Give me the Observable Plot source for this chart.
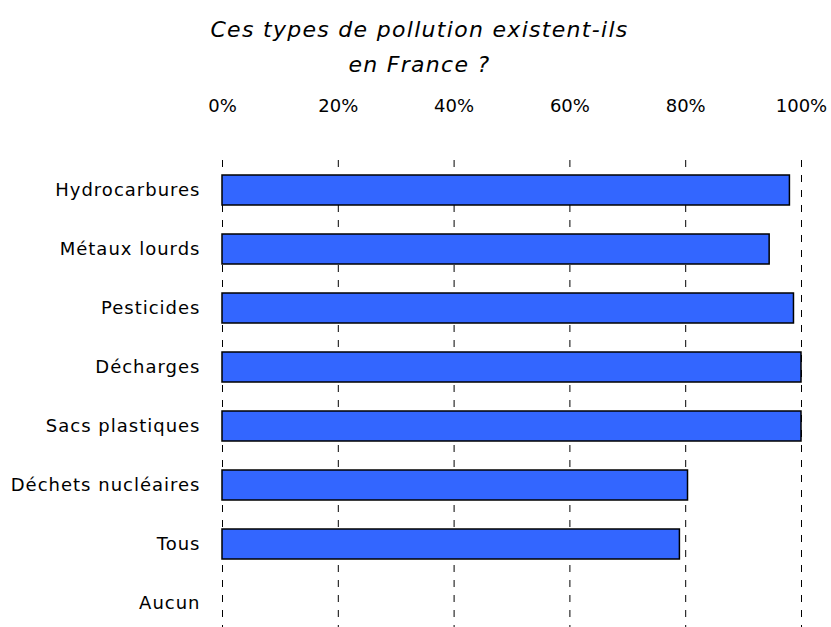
<!DOCTYPE html>
<html>
<head>
<meta charset="utf-8">
<script src="https://cdn.jsdelivr.net/npm/d3@7"></script>
<script src="https://cdn.jsdelivr.net/npm/@observablehq/plot@0.6"></script>
<style>
  html, body { margin: 0; padding: 0; background: #fff; overflow: hidden; }
  #title {
    width: 831px;
    height: 80px;
    box-sizing: border-box;
    padding-top: 12px;
    text-align: center;
    font-family: "DejaVu Sans", sans-serif;
    font-style: italic;
    font-size: 22px;
    letter-spacing: 1.3px;
    line-height: 35px;
    color: #000;
  }
  #title div { margin-left: 8px; }
  #chart g[aria-label="y-axis tick label"] text { letter-spacing: 1px; }
</style>
</head>
<body>
<div id="title"><div>Ces types de pollution existent-ils</div><div>en France ?</div></div>
<div id="chart"></div>
<script>
// Share of answers per pollution type (percent)
const categories = [
  "Hydrocarbures",
  "Métaux lourds",
  "Pesticides",
  "Décharges",
  "Sacs plastiques",
  "Déchets nucléaires",
  "Tous",
  "Aucun"
];
const values = [98.0, 94.5, 98.7, 100, 100, 80.4, 79.0, 0];
const xTicks = [0, 20, 40, 60, 80, 100];

const data = categories.map((c, i) => ({category: c, value: values[i]}));

const chart = Plot.plot({
  width: 831,
  height: 553,
  marginTop: 80,
  marginBottom: 0,
  marginLeft: 222,
  marginRight: 30,
  style: {fontFamily: "DejaVu Sans, sans-serif", fontSize: "18px", color: "#000", background: "#fff"},
  x: {
    domain: [0, 100],
    axis: "top",
    ticks: xTicks,
    tickSize: 0,
    tickPadding: 49,
    tickFormat: d => d + "%",
    label: null
  },
  y: {
    domain: categories,
    paddingInner: 0.5,
    paddingOuter: 0.25,
    tickSize: 0,
    tickPadding: 22,
    label: null
  },
  marks: [
    Plot.ruleX(xTicks, {stroke: "#000", strokeWidth: 1, strokeDasharray: "7,8"}),
    Plot.barX(data.filter(d => d.value > 0), {
      x: "value",
      y: "category",
      fill: "#3366FF",
      stroke: "#000",
      strokeWidth: 1.5
    })
  ]
});
document.getElementById("chart").appendChild(chart);
</script>
</body>
</html>
